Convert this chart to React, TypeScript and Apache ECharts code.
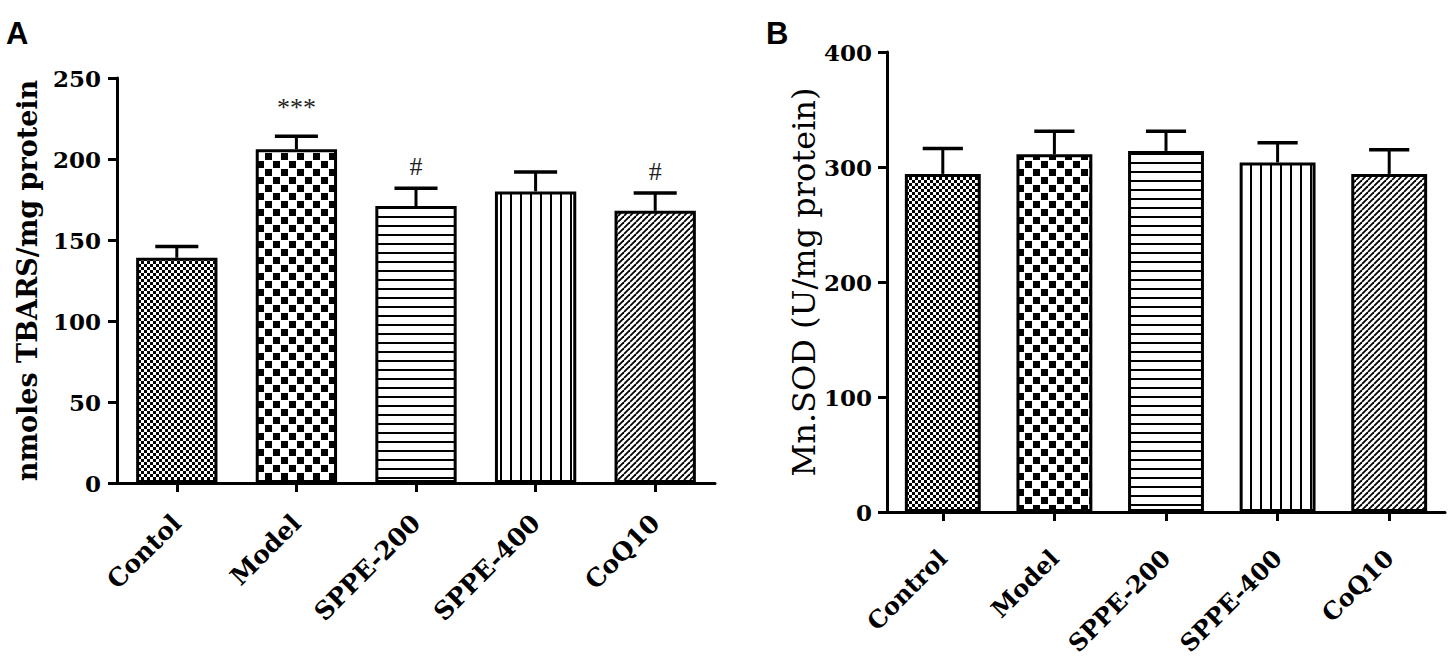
import React, { useEffect, useRef } from "react";
import * as echarts from "echarts";

// ---- Data ----
const categoriesA = ["Contol", "Model", "SPPE-200", "SPPE-400", "CoQ10"];
const meansA = [139, 206, 171, 180, 168];
const errA = [7, 8, 11, 12, 11];
const marksA = ["", "***", "#", "", "#"];
const yMinA = 0;
const yMaxA = 250;
const yStepA = 50;

const categoriesB = ["Control", "Model", "SPPE-200", "SPPE-400", "CoQ10"];
const meansB = [294, 311, 314, 304, 294];
const errB = [22, 20, 17, 17, 21];
const yMinB = 0;
const yMaxB = 400;
const yStepB = 100;

const titleA = "nmoles TBARS/mg protein";
const titleB = "Mn.SOD (U/mg protein)";

type Drawer = (ctx: CanvasRenderingContext2D, w: number, h: number) => void;

function makePattern(w: number, h: number, draw: Drawer) {
  const c = document.createElement("canvas");
  c.width = w;
  c.height = h;
  const ctx = c.getContext("2d")!;
  ctx.fillStyle = "#fff";
  ctx.fillRect(0, 0, w, h);
  ctx.fillStyle = "#000";
  ctx.strokeStyle = "#000";
  draw(ctx, w, h);
  return { image: c.toDataURL(), repeat: "repeat", imageWidth: w, imageHeight: h };
}

function buildPatterns() {
  const fineChecker = makePattern(6, 6, (ctx) => {
    ctx.fillRect(0, 0, 3, 3);
    ctx.fillRect(3, 3, 3, 3);
  });
  const bigChecker = makePattern(16, 16, (ctx) => {
    ctx.fillRect(1, 1, 7, 7);
    ctx.fillRect(9, 9, 7, 7);
  });
  const hLines = makePattern(9, 9, (ctx) => {
    ctx.fillRect(0, 0, 9, 2);
  });
  const vLines = makePattern(10, 10, (ctx) => {
    ctx.fillRect(0, 0, 2, 10);
  });
  const diag = makePattern(6, 6, (ctx, w, h) => {
    ctx.lineWidth = 1.8;
    for (const o of [-w, 0, w]) {
      ctx.beginPath();
      ctx.moveTo(o, h);
      ctx.lineTo(o + w, 0);
      ctx.stroke();
    }
  });
  return [fineChecker, bigChecker, hLines, vLines, diag];
}

const SERIF = "DejaVu Serif";

export default function App() {
  const ref = useRef<HTMLDivElement>(null);

  useEffect(() => {
    document.body.style.margin = "0";
    if (!ref.current) return;
    const chart = echarts.init(ref.current, undefined, { renderer: "svg" });
    const patterns = buildPatterns();

    const axisLineStyle = { color: "#000", width: 3 };

    const makeX = (gridIndex: number, cats: string[], fontSize: number, margin: number) => ({
      type: "category",
      gridIndex,
      data: cats,
      boundaryGap: true,
      axisLine: { show: true, lineStyle: axisLineStyle },
      axisTick: { show: true, alignWithLabel: true, length: 9, lineStyle: axisLineStyle },
      axisLabel: {
        rotate: 45,
        margin,
        interval: 0,
        color: "#000",
        fontFamily: SERIF,
        fontWeight: "bold",
        fontSize,
      },
      splitLine: { show: false },
    });

    const makeY = (
      gridIndex: number,
      min: number,
      max: number,
      interval: number,
      name: string,
      nameStyle: any,
      nameGap: number,
      labelMargin: number
    ) => ({
      type: "value",
      gridIndex,
      min,
      max,
      interval,
      name,
      nameLocation: "middle",
      nameRotate: 90,
      nameGap,
      nameTextStyle: nameStyle,
      axisLine: { show: true, lineStyle: axisLineStyle },
      axisTick: { show: true, length: 9, lineStyle: axisLineStyle },
      axisLabel: {
        margin: labelMargin,
        color: "#000",
        fontFamily: SERIF,
        fontWeight: "bold",
        fontSize: 23,
      },
      splitLine: { show: false },
    });

    const barSeries = (idx: number, means: number[]) => ({
      type: "bar",
      xAxisIndex: idx,
      yAxisIndex: idx,
      barWidth: "68%",
      z: 2,
      data: means.map((v, i) => ({
        value: v,
        itemStyle: { color: patterns[i], borderColor: "#000", borderWidth: 3 },
      })),
    });

    const errSeries = (idx: number, means: number[], errs: number[]) => ({
      type: "custom",
      xAxisIndex: idx,
      yAxisIndex: idx,
      z: 3,
      encode: { x: 0, y: 1 },
      data: means.map((m, i) => [i, m, errs[i]]),
      renderItem: (params: any, api: any) => {
        const i = api.value(0);
        const m = api.value(1);
        const e = api.value(2);
        const base = api.coord([i, m]);
        const top = api.coord([i, m + e]);
        const band = api.size([1, 0])[0];
        const half = band * 0.18;
        return {
          type: "group",
          children: [
            {
              type: "line",
              shape: { x1: top[0], y1: base[1], x2: top[0], y2: top[1] },
              style: { stroke: "#000", lineWidth: 3 },
            },
            {
              type: "line",
              shape: { x1: top[0] - half, y1: top[1], x2: top[0] + half, y2: top[1] },
              style: { stroke: "#000", lineWidth: 3.5 },
            },
          ],
        };
      },
    });

    const markSeries = (idx: number, means: number[], errs: number[], marks: string[]) => ({
      type: "custom",
      xAxisIndex: idx,
      yAxisIndex: idx,
      z: 4,
      encode: { x: 0, y: 1 },
      data: means.map((m, i) => [i, m + errs[i]]),
      renderItem: (params: any, api: any) => {
        const text = marks[params.dataIndex];
        if (!text) return null;
        const p = api.coord([api.value(0), api.value(1)]);
        const lift = text.indexOf("*") >= 0 ? 16 : 9;
        return {
          type: "text",
          x: p[0],
          y: p[1] - lift,
          style: {
            text,
            fill: "#222",
            fontFamily: "Liberation Serif",
            fontSize: 26,
            align: "center",
            verticalAlign: "bottom",
          },
        };
      },
    });

    const option: any = {
      animation: false,
      backgroundColor: "#fff",
      grid: [
        { left: 117, top: 78, width: 598, height: 405 },
        { left: 887, top: 52, width: 558, height: 460 },
      ],
      xAxis: [makeX(0, categoriesA, 25, 36), makeX(1, categoriesB, 24, 42)],
      yAxis: [
        makeY(
          0,
          yMinA,
          yMaxA,
          yStepA,
          titleA,
          { color: "#000", fontFamily: SERIF, fontWeight: "bold", fontSize: 27 },
          76,
          16
        ),
        makeY(
          1,
          yMinB,
          yMaxB,
          yStepB,
          titleB,
          { color: "#000", fontFamily: SERIF, fontWeight: "normal", fontSize: 32 },
          66,
          15
        ),
      ],
      graphic: [
        {
          type: "text",
          left: 6,
          top: 18,
          style: { text: "A", fill: "#000", fontFamily: "Liberation Sans", fontWeight: "bold", fontSize: 31 },
        },
        {
          type: "text",
          left: 766,
          top: 18,
          style: { text: "B", fill: "#000", fontFamily: "Liberation Sans", fontWeight: "bold", fontSize: 31 },
        },
      ],
      series: [
        barSeries(0, meansA),
        errSeries(0, meansA, errA),
        markSeries(0, meansA, errA, marksA),
        barSeries(1, meansB),
        errSeries(1, meansB, errB),
      ],
    };

    chart.setOption(option);
    return () => chart.dispose();
  }, []);

  return <div ref={ref} style={{ width: 1450, height: 666, background: "#fff" }} />;
}
